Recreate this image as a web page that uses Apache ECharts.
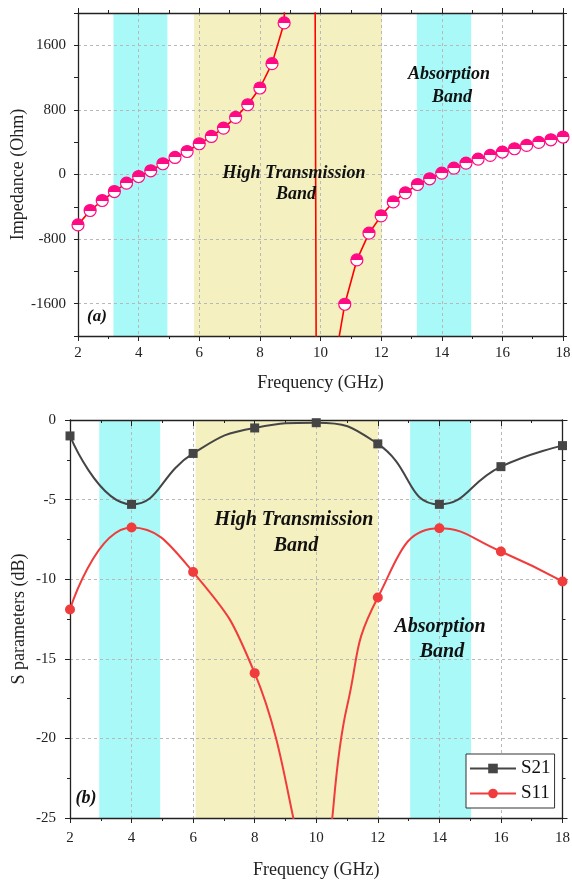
<!DOCTYPE html>
<html>
<head>
<meta charset="utf-8">
<script src="https://cdn.jsdelivr.net/npm/echarts@6/dist/echarts.min.js"></script>
<style>
  html, body { margin: 0; padding: 0; background: #fff; }
  #chart { width: 572px; height: 883px; }
</style>
</head>
<body>
<div id="chart"></div>
<script>
// ── (a) impedance ───────────────────────────────────────────────
const freqA = [2.0, 2.4, 2.8, 3.2, 3.6, 4.0, 4.4, 4.8, 5.2, 5.6, 6.0, 6.4, 6.8, 7.2, 7.6,
    8.0, 8.4, 8.8, 9.2, 9.6, 10.0, 10.4, 10.8, 11.2, 11.6, 12.0, 12.4, 12.8, 13.2, 13.6,
    14.0, 14.4, 14.8, 15.2, 15.6, 16.0, 16.4, 16.8, 17.2, 17.6, 18.0];
const impedance = [-624, -446, -322, -211, -107, -25, 46, 133, 211, 285, 381, 471, 575, 707, 864,
    1071, 1373, 1877, 8000, 30000, -20000, -2480, -1607, -1058, -727, -512, -340, -227, -124, -53,
    17, 79, 141, 191, 236, 278, 319, 360, 397, 430, 464];
const impTicks = [-1600, -800, 0, 800, 1600];
const bandsA = [[3.17, 4.95, 'cyan'], [5.83, 12.03, 'yellow'], [13.18, 14.97, 'cyan']];

// ── (b) S parameters ────────────────────────────────────────────
const freqB = [2, 4, 6, 8, 10, 12, 14, 16, 18];           // marker positions
const s21 = [-1.0, -5.3, -2.1, -0.5, -0.17, -1.5, -5.3, -2.93, -1.61];
// S11 curve: marker points plus one unmarked point at 11 GHz
const s11Freq = [2, 4, 6, 8, 10, 11, 12, 14, 16, 18];
const s11 = [-11.9, -6.75, -9.55, -15.9, -28, -18, -11.15, -6.8, -8.26, -10.14];
const bandsB = [[2.95, 4.93, 'cyan'], [6.08, 12.0, 'yellow'], [13.05, 15.03, 'cyan']];

const FONT = '"Liberation Serif", "Times New Roman", serif';
const bandColors = { cyan: '#aaf9f9', yellow: '#f4f0c0' };
const gridDash = { color: '#b8b8b8', width: 1, type: [3, 3] };
const axisLine = { onZero: false, lineStyle: { color: '#222', width: 1.3 } };
const labelStyle = { color: '#222', fontSize: 15, fontFamily: FONT };

const chart = echarts.init(document.getElementById('chart'));

function freqAxis(grid, pos, opts) {
    return Object.assign({
        type: 'value', gridIndex: grid, position: pos, min: 2, max: 18, interval: 2, z: 2,
        axisLine: axisLine,
        axisTick: { show: true, length: 5, lineStyle: { color: '#222' } },
        minorTick: { show: true, splitNumber: 2, length: 3, lineStyle: { color: '#222' } },
        splitLine: { show: false },
        axisLabel: { show: false }
    }, opts);
}

const option = {
    animation: false,
    grid: [
        { left: 78, top: 13, width: 485, height: 323, outerBoundsMode: 'none' },
        { left: 70, top: 420, width: 492.5, height: 398, outerBoundsMode: 'none' }
    ],
    legend: {
        data: ['S21', 'S11'],
        orient: 'vertical',
        left: 466, top: 754,
        padding: [5, 4, 5, 3],
        itemGap: 6, itemWidth: 46, itemHeight: 12,
        borderColor: '#333', borderWidth: 1,
        backgroundColor: '#fff',
        textStyle: { fontSize: 19, fontFamily: FONT, color: '#111', padding: [0, 0, 0, 0] }
    },
    xAxis: [
        freqAxis(0, 'bottom', {
            name: 'Frequency (GHz)', nameLocation: 'middle', nameGap: 38, nameMoveOverlap: false,
            nameTextStyle: { fontSize: 18, fontFamily: FONT, color: '#222' },
            splitLine: { show: true, lineStyle: gridDash },
            axisLabel: Object.assign({ margin: 10 }, labelStyle)
        }),
        freqAxis(0, 'top', {}),
        freqAxis(1, 'bottom', {
            name: 'Frequency (GHz)', nameLocation: 'middle', nameGap: 43, nameMoveOverlap: false,
            nameTextStyle: { fontSize: 18, fontFamily: FONT, color: '#222' },
            splitLine: { show: true, lineStyle: gridDash },
            axisLabel: Object.assign({ margin: 13 }, labelStyle)
        }),
        freqAxis(1, 'top', {
            axisTick: { show: true, inside: true, length: 6, lineStyle: { color: '#222' } }
        })
    ],
    yAxis: [
        {
            type: 'value', gridIndex: 0, position: 'left', min: -2000, max: 2000, interval: 400, z: 2,
            name: 'Impedance (Ohm)', nameLocation: 'middle', nameGap: 51, nameMoveOverlap: false,
            nameTextStyle: { fontSize: 18, fontFamily: FONT, color: '#222' },
            axisLine: axisLine,
            axisTick: { show: true, length: 4, lineStyle: { color: '#222' } },
            splitLine: { show: false },
            axisLabel: Object.assign({
                margin: 12,
                formatter: v => (impTicks.indexOf(v) >= 0 ? String(v) : '')
            }, labelStyle)
        },
        {
            type: 'value', gridIndex: 0, position: 'right', min: -2000, max: 2000, interval: 400, z: 2,
            axisLine: axisLine,
            axisTick: { show: true, length: 4, lineStyle: { color: '#222' } },
            splitLine: { show: false },
            axisLabel: { show: false }
        },
        {
            type: 'value', gridIndex: 1, position: 'left', min: -25, max: 0, interval: 5, z: 2,
            name: 'S parameters (dB)', nameLocation: 'middle', nameGap: 42, nameMoveOverlap: false,
            nameTextStyle: { fontSize: 18, fontFamily: FONT, color: '#222' },
            axisLine: axisLine,
            axisTick: { show: true, length: 5, lineStyle: { color: '#222' } },
            minorTick: { show: true, splitNumber: 2, length: 3, lineStyle: { color: '#222' } },
            splitLine: { show: true, lineStyle: gridDash },
            axisLabel: Object.assign({ margin: 14 }, labelStyle)
        },
        {
            type: 'value', gridIndex: 1, position: 'right', min: -25, max: 0, interval: 5, z: 2,
            axisLine: axisLine,
            axisTick: { show: true, length: 5, lineStyle: { color: '#222' } },
            minorTick: { show: true, splitNumber: 2, length: 3, lineStyle: { color: '#222' } },
            splitLine: { show: false },
            axisLabel: { show: false }
        }
    ],
    series: [
        // band shading (a)
        {
            type: 'line', xAxisIndex: 0, yAxisIndex: 0, data: [], z: 1, silent: true,
            markArea: {
                silent: true,
                data: bandsA.map(b => [
                    { xAxis: b[0], itemStyle: { color: bandColors[b[2]] } },
                    { xAxis: b[1] }
                ])
            }
        },
        // horizontal grid lines (a), every 800 Ohm
        {
            type: 'line', xAxisIndex: 0, yAxisIndex: 0, data: [], z: 2, silent: true,
            markLine: {
                silent: true, z: 2, symbol: ['none', 'none'], label: { show: false },
                lineStyle: gridDash,
                data: impTicks.map(v => ({ yAxis: v }))
            }
        },
        // band shading (b)
        {
            type: 'line', xAxisIndex: 2, yAxisIndex: 2, data: [], z: 1, silent: true,
            markArea: {
                silent: true,
                data: bandsB.map(b => [
                    { xAxis: b[0], itemStyle: { color: bandColors[b[2]] } },
                    { xAxis: b[1] }
                ])
            }
        },
        {
            name: 'Impedance',
            type: 'line', xAxisIndex: 0, yAxisIndex: 0, z: 4,
            data: freqA.map((f, i) => [f, impedance[i]]),
            clip: true,
            symbol: 'circle', symbolSize: 12,
            lineStyle: { color: '#ff0000', width: 1.6 },
            itemStyle: {
                borderColor: '#ff0a84', borderWidth: 1.2,
                color: {
                    type: 'linear', x: 0, y: 0, x2: 0, y2: 1,
                    colorStops: [
                        { offset: 0, color: '#ff0a84' }, { offset: 0.5, color: '#ff0a84' },
                        { offset: 0.5, color: '#ffffff' }, { offset: 1, color: '#ffffff' }
                    ]
                }
            }
        },
        {
            name: 'S21',
            type: 'line', xAxisIndex: 2, yAxisIndex: 2, z: 4,
            data: freqB.map((f, i) => [f, s21[i]]),
            smooth: true, clip: true,
            symbol: 'rect', symbolSize: 9,
            lineStyle: { color: '#454545', width: 2 },
            itemStyle: { color: '#454545' }
        },
        {
            name: 'S11',
            type: 'line', xAxisIndex: 2, yAxisIndex: 2, z: 4,
            data: s11Freq.map((f, i) => (freqB.indexOf(f) >= 0
                ? [f, s11[i]]
                : { value: [f, s11[i]], symbol: 'none' })),
            smooth: true, clip: true,
            symbol: 'circle', symbolSize: 10,
            lineStyle: { color: '#f03c3c', width: 2 },
            itemStyle: { color: '#f03c3c' }
        }
    ],
    graphic: [
        ['High Transmission', 294, 173, 18], ['Band', 296, 194, 18],
        ['Absorption', 449, 74, 18], ['Band', 452, 97, 18],
        ['(a)', 97, 317, 17],
        ['High Transmission', 294, 520, 20], ['Band', 296, 546, 20],
        ['Absorption', 440, 627, 20], ['Band', 442, 652, 20],
        ['(b)', 86, 798, 18]
    ].map(t => ({
        type: 'text', x: t[1], y: t[2], z: 10, silent: true,
        style: {
            text: t[0], textAlign: 'center', textVerticalAlign: 'middle',
            font: 'italic bold ' + t[3] + 'px ' + FONT, fill: '#111'
        }
    }))
};

chart.setOption(option);
window.addEventListener('resize', () => chart.resize());
</script>
</body>
</html>
